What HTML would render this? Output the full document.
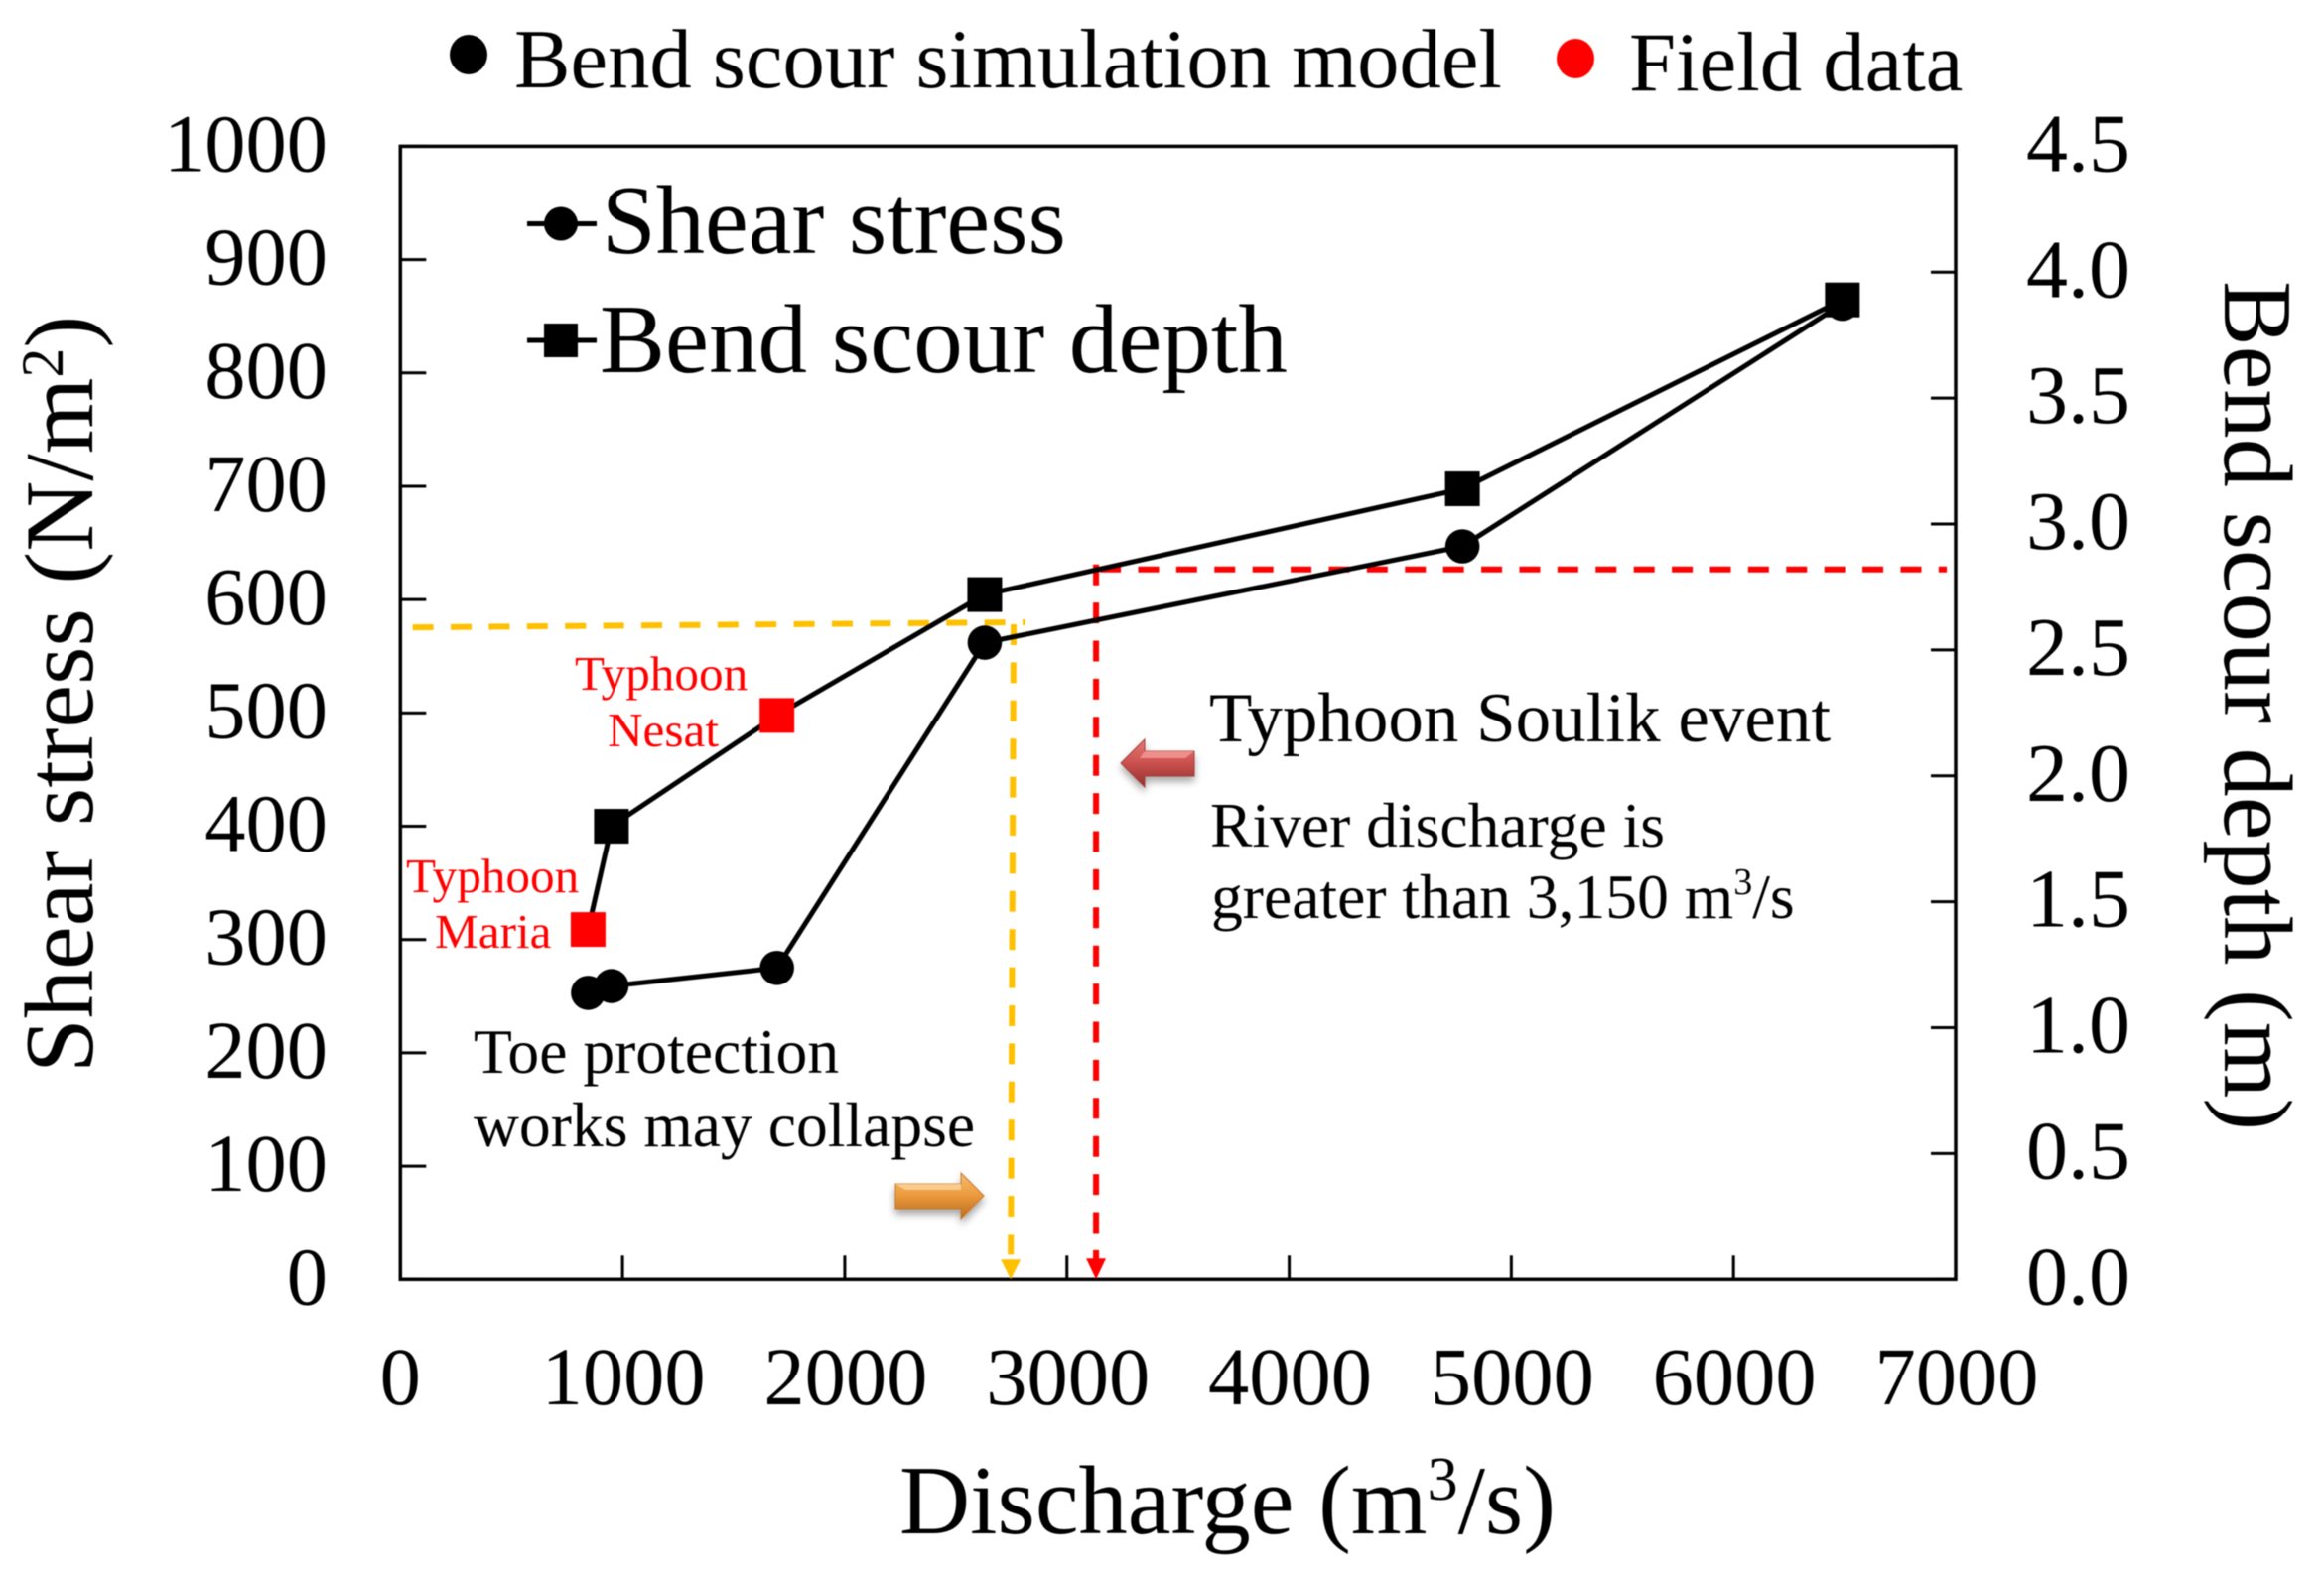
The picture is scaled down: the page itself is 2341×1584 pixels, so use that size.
<!DOCTYPE html>
<html lang="en">
<head>
<meta charset="utf-8">
<title>Shear stress and bend scour depth vs discharge</title>
<style>
html,body{margin:0;padding:0;background:#fff;width:2341px;height:1584px;overflow:hidden}
svg{display:block;filter:blur(0.6px)}
text{font-family:"Liberation Serif","Times New Roman",serif;fill:#000}
.tick{font-size:82.5px}
.title{font-size:98.5px}
.top{font-size:84.7px}
.red{font-size:49.2px;fill:#f00}
.note{font-size:63.6px}
</style>
</head>
<body>
<svg id="chart" xmlns="http://www.w3.org/2000/svg" width="2341" height="1584" viewBox="0 0 2341 1584">
  <defs>
    <linearGradient id="orangeGrad" x1="0" y1="0" x2="0" y2="1">
      <stop offset="0" stop-color="#f6bd72"/><stop offset="0.5" stop-color="#ec9a3c"/><stop offset="1" stop-color="#b86a1e"/>
    </linearGradient>
    <linearGradient id="redGrad" x1="0" y1="0" x2="0" y2="1">
      <stop offset="0" stop-color="#e57b78"/><stop offset="0.5" stop-color="#cb504d"/><stop offset="1" stop-color="#8f302e"/>
    </linearGradient>
    <filter id="arrowShadow" x="-20%" y="-30%" width="140%" height="170%">
      <feDropShadow dx="0" dy="5" stdDeviation="4" flood-color="#000" flood-opacity="0.35"/>
    </filter>
  </defs>

  <g id="axes"></g>
  <g id="guides"></g>
  <g id="series"></g>

  <!-- top key -->
  <g>
    <ellipse cx="472" cy="55" rx="19" ry="20" fill="#000"/>
    <text class="top" x="518" y="88">Bend scour simulation model</text>
    <ellipse cx="1587" cy="59" rx="19" ry="20" fill="#f00"/>
    <text class="top" x="1641" y="91">Field data</text>
  </g>

  <!-- in-plot legend -->
  <g>
    <line x1="531" y1="225.5" x2="601" y2="225.5" stroke="#000" stroke-width="5"/>
    <circle cx="565" cy="225.5" r="17" fill="#000"/>
    <text font-size="98.5" x="606" y="255">Shear stress</text>
    <line x1="531" y1="343" x2="601" y2="343" stroke="#000" stroke-width="5"/>
    <rect x="548" y="326" width="34" height="34" fill="#000"/>
    <text font-size="99" x="604" y="375">Bend scour depth</text>
  </g>

  <!-- axis titles -->
  <text class="title" x="906" y="1545">Discharge (m<tspan font-size="62" dy="-34">3</tspan><tspan dy="34">/s)</tspan></text>
  <text class="title" transform="translate(93 1081) rotate(-90)">Shear stress (N/m<tspan font-size="60" dy="-30">2</tspan><tspan dy="30">)</tspan></text>
  <text class="title" transform="translate(2241 283) rotate(90)">Bend scour depth (m)</text>

  <!-- annotations -->
  <text class="red" x="579" y="695">Typhoon</text>
  <text class="red" x="612" y="752">Nesat</text>
  <text class="red" x="409" y="899">Typhoon</text>
  <text class="red" x="438" y="955">Maria</text>
  <text class="note" x="477" y="1081">Toe protection</text>
  <text class="note" x="477" y="1155">works may collapse</text>
  <text x="1218" y="747" font-size="71">Typhoon Soulik event</text>
  <text class="note" x="1219" y="853">River discharge is</text>
  <text class="note" x="1220" y="925">greater than 3,150 m<tspan font-size="38" dy="-24">3</tspan><tspan dy="24">/s</tspan></text>

  <!-- block arrows -->
  <g filter="url(#arrowShadow)">
    <polygon points="902,1193 968,1193 968,1182 991,1205 968,1228 968,1218 902,1218" fill="url(#orangeGrad)" stroke="#c87a28" stroke-width="1"/>
    <polygon points="902,1193 968,1193 968,1199 912,1199" fill="#f9cb8c"/>
  </g>
  <g filter="url(#arrowShadow)">
    <polygon points="1203,757 1153,757 1153,745 1129,769 1153,793 1153,782 1203,782" fill="url(#redGrad)" stroke="#a53e3b" stroke-width="1"/>
    <polygon points="1153,757 1203,757 1194,764 1148,764" fill="#ee8f8c"/>
  </g>

  <script>
    // chart data
    const discharge = [845, 950, 1695, 2630, 4780, 6490];
    const shearStress = [253, 259, 275, 562, 647, 861];
    const scourDepth = [1.39, 1.80, 2.24, 2.72, 3.14, 3.89];
    const depthFromField = [true, false, true, false, false, false];

    const xTickLabels = [0, 1000, 2000, 3000, 4000, 5000, 6000, 7000];
    const leftTickLabels = [0, 100, 200, 300, 400, 500, 600, 700, 800, 900, 1000];
    const rightTickLabels = ['0.0', '0.5', '1.0', '1.5', '2.0', '2.5', '3.0', '3.5', '4.0', '4.5'];

    const yellowGuideDischarge = [55, 2812];
    const yellowGuideStress = [575.5, 580];
    const yellowDropDischarge = [2760, 2747];
    const redGuideDischarge = [3131, 6960];
    const redGuideDepth = [2.82];

    const plot = {left: 403.3, right: 1970, top: 147.4, bottom: 1289.3};
    const xMax = 7000, leftMax = 1000, rightMax = 4.5;
    const sx = v => plot.left + (v / xMax) * (plot.right - plot.left);
    const syL = v => plot.bottom - (v / leftMax) * (plot.bottom - plot.top);
    const syR = v => plot.bottom - (v / rightMax) * (plot.bottom - plot.top);

    const NS = 'http://www.w3.org/2000/svg';
    function make(tag, parent, attrs, text) {
      const el = document.createElementNS(NS, tag);
      for (const k in attrs) el.setAttribute(k, attrs[k]);
      if (text !== undefined) el.textContent = text;
      parent.appendChild(el);
      return el;
    }

    const axes = document.getElementById('axes');
    const frame = make('rect', axes, {x: plot.left, y: plot.top, width: plot.right - plot.left, height: plot.bottom - plot.top, fill: 'none', stroke: '#000', 'stroke-width': 3.5});
    
    

    xTickLabels.forEach(v => {
      if (v > 0 && v < xMax) {
        const t = make('line', axes, {x1: sx(v), x2: sx(v), y1: plot.bottom, y2: plot.bottom - 24, stroke: '#000', 'stroke-width': 3});
        
        
      }
      const l = make('text', axes, {x: sx(v) + (v === 0 ? 0 : 1), y: 1415, 'text-anchor': 'middle', class: 'tick'}, String(v));
      
      
    });

    leftTickLabels.forEach(v => {
      const t = make('line', axes, {x1: plot.left, x2: plot.left + 26, y1: syL(v), y2: syL(v), stroke: '#000', 'stroke-width': 3});
      
      
      const l = make('text', axes, {x: 330, y: syL(v) + 25, 'text-anchor': 'end', class: 'tick'}, String(v));
      
      
    });

    rightTickLabels.forEach(v => {
      const y = syR(parseFloat(v));
      const t = make('line', axes, {x1: plot.right, x2: plot.right - 25, y1: y, y2: y, stroke: '#000', 'stroke-width': 3});
      
      
      const l = make('text', axes, {x: 2041, y: y + 25, class: 'tick', 'font-size': 84, style: 'font-size:84px'}, v);
      
      
    });

    const guides = document.getElementById('guides');
    const dash = {fill: 'none', 'stroke-width': 6, 'stroke-dasharray': '21 17.4'};
    const yellowH = make('line', guides, Object.assign({
      x1: sx(yellowGuideDischarge[0]), y1: syL(yellowGuideStress[0]),
      x2: sx(yellowGuideDischarge[1]), y2: syL(yellowGuideStress[1]), stroke: '#ffc000'}, dash));
    
    
    const yellowV = make('line', guides, Object.assign({
      x1: sx(yellowDropDischarge[0]), y1: syL(yellowGuideStress[1]) + 2,
      x2: sx(yellowDropDischarge[1]), y2: plot.bottom - 18, stroke: '#ffc000'}, dash));
    
    
    const yx = sx(yellowDropDischarge[1]);
    const yHead = make('polygon', guides, {points: `${yx-10},${plot.bottom-20} ${yx+10},${plot.bottom-20} ${yx},${plot.bottom}`, fill: '#ffc000'});
    
    

    const redH = make('line', guides, Object.assign({
      x1: sx(redGuideDischarge[0]) + 4, y1: syR(redGuideDepth[0]),
      x2: sx(redGuideDischarge[1]), y2: syR(redGuideDepth[0]), stroke: '#f00'}, dash));
    
    
    const redV = make('line', guides, Object.assign({
      x1: sx(redGuideDischarge[0]), y1: syR(redGuideDepth[0]) - 5,
      x2: sx(redGuideDischarge[0]), y2: plot.bottom - 18, stroke: '#f00'}, dash));
    
    
    const rx = sx(redGuideDischarge[0]);
    const rHead = make('polygon', guides, {points: `${rx-10},${plot.bottom-21} ${rx+10},${plot.bottom-21} ${rx},${plot.bottom}`, fill: '#f00'});
    
    

    const series = document.getElementById('series');
    const shearLine = make('polyline', series, {points: discharge.map((d, i) => sx(d) + ',' + syL(shearStress[i])).join(' '), fill: 'none', stroke: '#000', 'stroke-width': 5, 'stroke-linejoin': 'round'});
    
    
    const depthLine = make('polyline', series, {points: discharge.map((d, i) => sx(d) + ',' + syR(scourDepth[i])).join(' '), fill: 'none', stroke: '#000', 'stroke-width': 5, 'stroke-linejoin': 'round'});
    
    

    discharge.forEach((d, i) => {
      const c = make('circle', series, {cx: sx(d), cy: syL(shearStress[i]), r: 17.3, fill: '#000'});
      
      
    });
    discharge.forEach((d, i) => {
      const r = make('rect', series, {x: sx(d) - 17.5, y: syR(scourDepth[i]) - 17.5, width: 35, height: 35, fill: depthFromField[i] ? '#f00' : '#000'});
      
      
    });
  </script>
</svg>
</body>
</html>
